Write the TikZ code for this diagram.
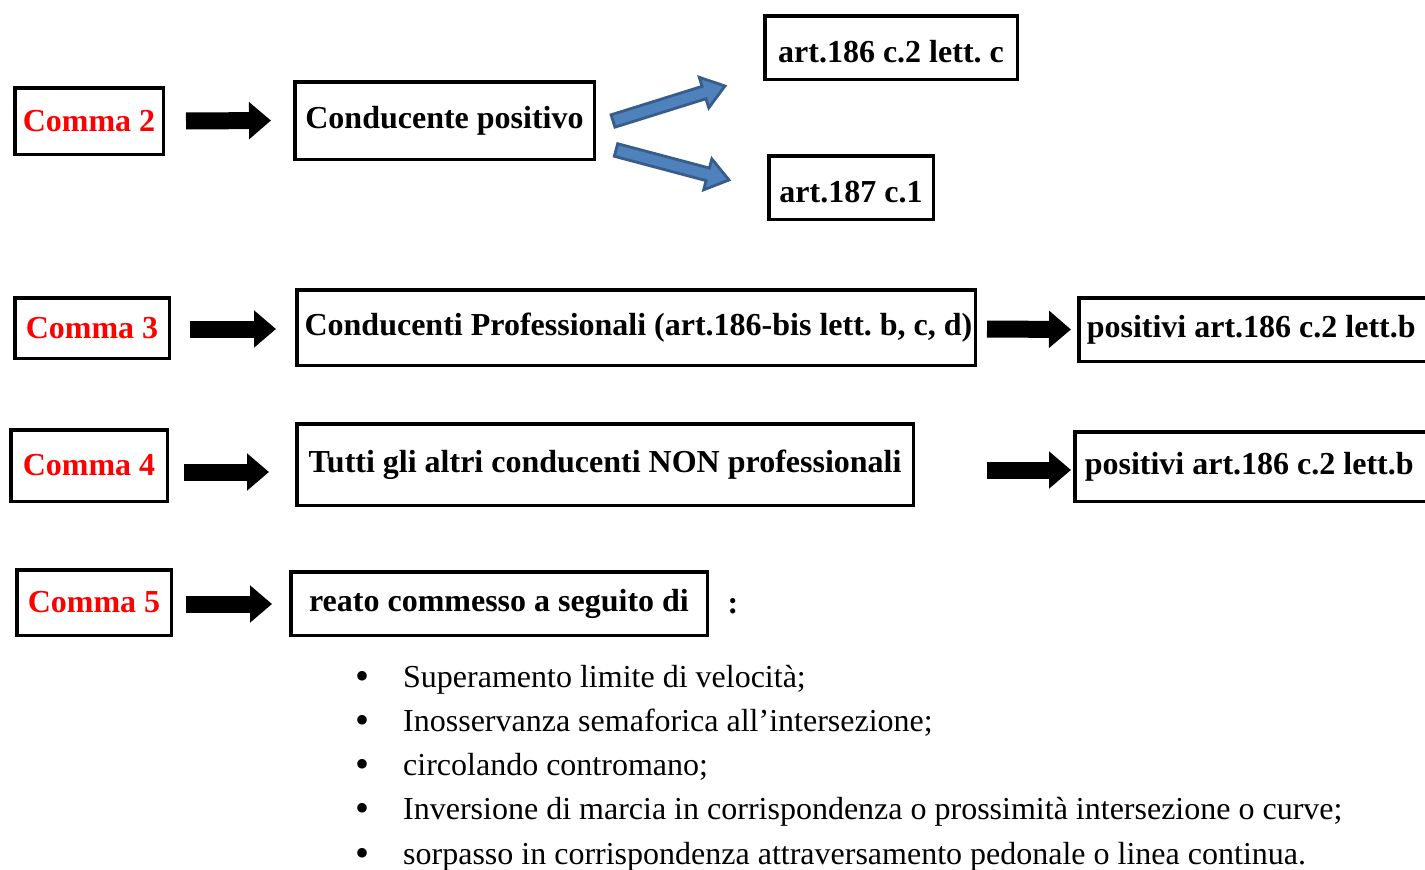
\documentclass[tikz,border=0pt]{standalone}
\usepackage{fontspec}
\setmainfont{Liberation Serif}
\usetikzlibrary{calc,arrows.meta}

\definecolor{commared}{RGB}{255,0,0}
\definecolor{arrfill}{RGB}{79,129,189}
\definecolor{arrline}{RGB}{56,93,138}
\newcommand{\bigfont}{\fontsize{32}{38}\selectfont\frenchspacing}

% fat blue arrow from #1 (tail) to #2 (tip)
\newcommand{\bluearrow}[2]{%
  \coordinate (bh) at ($(#2)!22pt!(#1)$);
  \draw[fatarrow] ($(#1)!6.5pt!90:(#2)$) -- ($(bh)!6.5pt!90:(#2)$) -- ($(bh)!16pt!90:(#2)$)
    -- (#2) -- ($(bh)!16pt!-90:(#2)$) -- ($(bh)!6.5pt!-90:(#2)$) -- ($(#1)!6.5pt!-90:(#2)$) -- cycle;}

\begin{document}
\begin{tikzpicture}[x=1pt,y=-1pt,
    box/.style={draw,line width=3.5pt,font=\bigfont\bfseries,inner sep=0pt},
    artbox/.style={box,text height=29pt,text depth=0pt},
    posbox/.style={box,anchor=west,text width=400pt,align=flush left},
    comma/.style={box,text=commared},
    blkarrow/.style={line width=17pt,-{Triangle[length=22pt,width=36pt]}},
    fatarrow/.style={fill=arrfill,draw=arrline,line width=2.8pt,line join=miter}]
    \useasboundingbox (0,0) rectangle (1425,870);
    % Comma 2
    \node[comma,minimum width=148.5pt,minimum height=66.5pt] (c2) at (89,121) {Comma 2};
    \node[box,minimum width=299.5pt,minimum height=77.5pt] (cp) at (444.5,120.5) {Conducente positivo};
    \node[artbox,minimum width=252.5pt,minimum height=63.5pt] (a186) at (891,47.5) {art.186 c.2 lett. c};
    \node[artbox,minimum width=164.5pt,minimum height=63.5pt] (a187) at (851,187.5) {art.187 c.1};
    \draw[blkarrow] ([xshift=21pt]c2.east) -- ([xshift=-22pt]cp.west);
    \coordinate (u1) at ([shift={(17,0.5)}]cp.east);
    \coordinate (u2) at ([shift={(-38,5)}]a186.south west);
    \coordinate (d1) at ([shift={(20,29.5)}]cp.east);
    \coordinate (d2) at ([shift={(-38,-7.5)}]a187.west);
    \bluearrow{u1}{u2}
    \bluearrow{d1}{d2}
    % Comma 3
    \node[comma,minimum width=154.5pt,minimum height=60.5pt] (c3) at (92,328) {Comma 3};
    \node[box,minimum width=678.5pt,minimum height=75.5pt] (prof) at (636,327.5) {\hspace{5pt}Conducenti Professionali (art.186-bis lett. b, c, d)};
    \node[posbox,inner xsep=8pt,minimum height=63.5pt] (pos3) at (1077,329.5) {positivi art.186 c.2 lett.b};
    \draw[blkarrow] ([shift={(19,1)}]c3.east) -- ([shift={(-19,1.5)}]prof.west);
    \draw[blkarrow] ([shift={(10,1.5)}]prof.east) -- ([xshift=-6pt]pos3.west);
    % Comma 4
    \node[comma,minimum width=156.5pt,minimum height=71.5pt] (c4) at (89,465.5) {Comma 4};
    \node[box,minimum width=616.5pt,minimum height=81.5pt] (tutti) at (605,464.5) {Tutti gli altri conducenti NON professionali};
    \node[posbox,inner xsep=10pt,minimum height=69.5pt] (pos4) at (1073,466.5) {positivi art.186 c.2 lett.b};
    \draw[blkarrow] ([shift={(15,6.5)}]c4.east) -- ([shift={(-26,7.5)}]tutti.west);
    \draw[blkarrow] ([shift={(72,5.5)}]tutti.east) -- ([shift={(-2,3.5)}]pos4.west);
    % Comma 5
    \node[comma,minimum width=154.5pt,minimum height=65.5pt] (c5) at (94,602.5) {Comma 5};
    \node[box,minimum width=416.5pt,minimum height=63.5pt] (reato) at (499,603.5) {reato commesso a seguito di};
    \node[font=\bigfont\bfseries] (colon) at (733,606) {:};
    \draw[blkarrow] ([shift={(13,1.5)}]c5.east) -- ([shift={(-17,0.5)}]reato.west);
    % list
    \foreach \t [count=\i from 0] in {Superamento limite di velocità;,
        Inosservanza semaforica all’intersezione;,
        circolando contromano;,
        Inversione di marcia in corrispondenza o prossimità intersezione o curve;,
        sorpasso in corrispondenza attraversamento pedonale o linea continua.} {
      \node[font=\fontsize{40}{40}\selectfont,anchor=base,inner sep=0pt] (b\i) at (362,{689+44.25*\i}) {\textbullet};
      \node[font=\bigfont,anchor=base west,inner sep=0pt] (l\i) at (403,{687+44.25*\i}) {\t};
    }
\end{tikzpicture}
\end{document}
